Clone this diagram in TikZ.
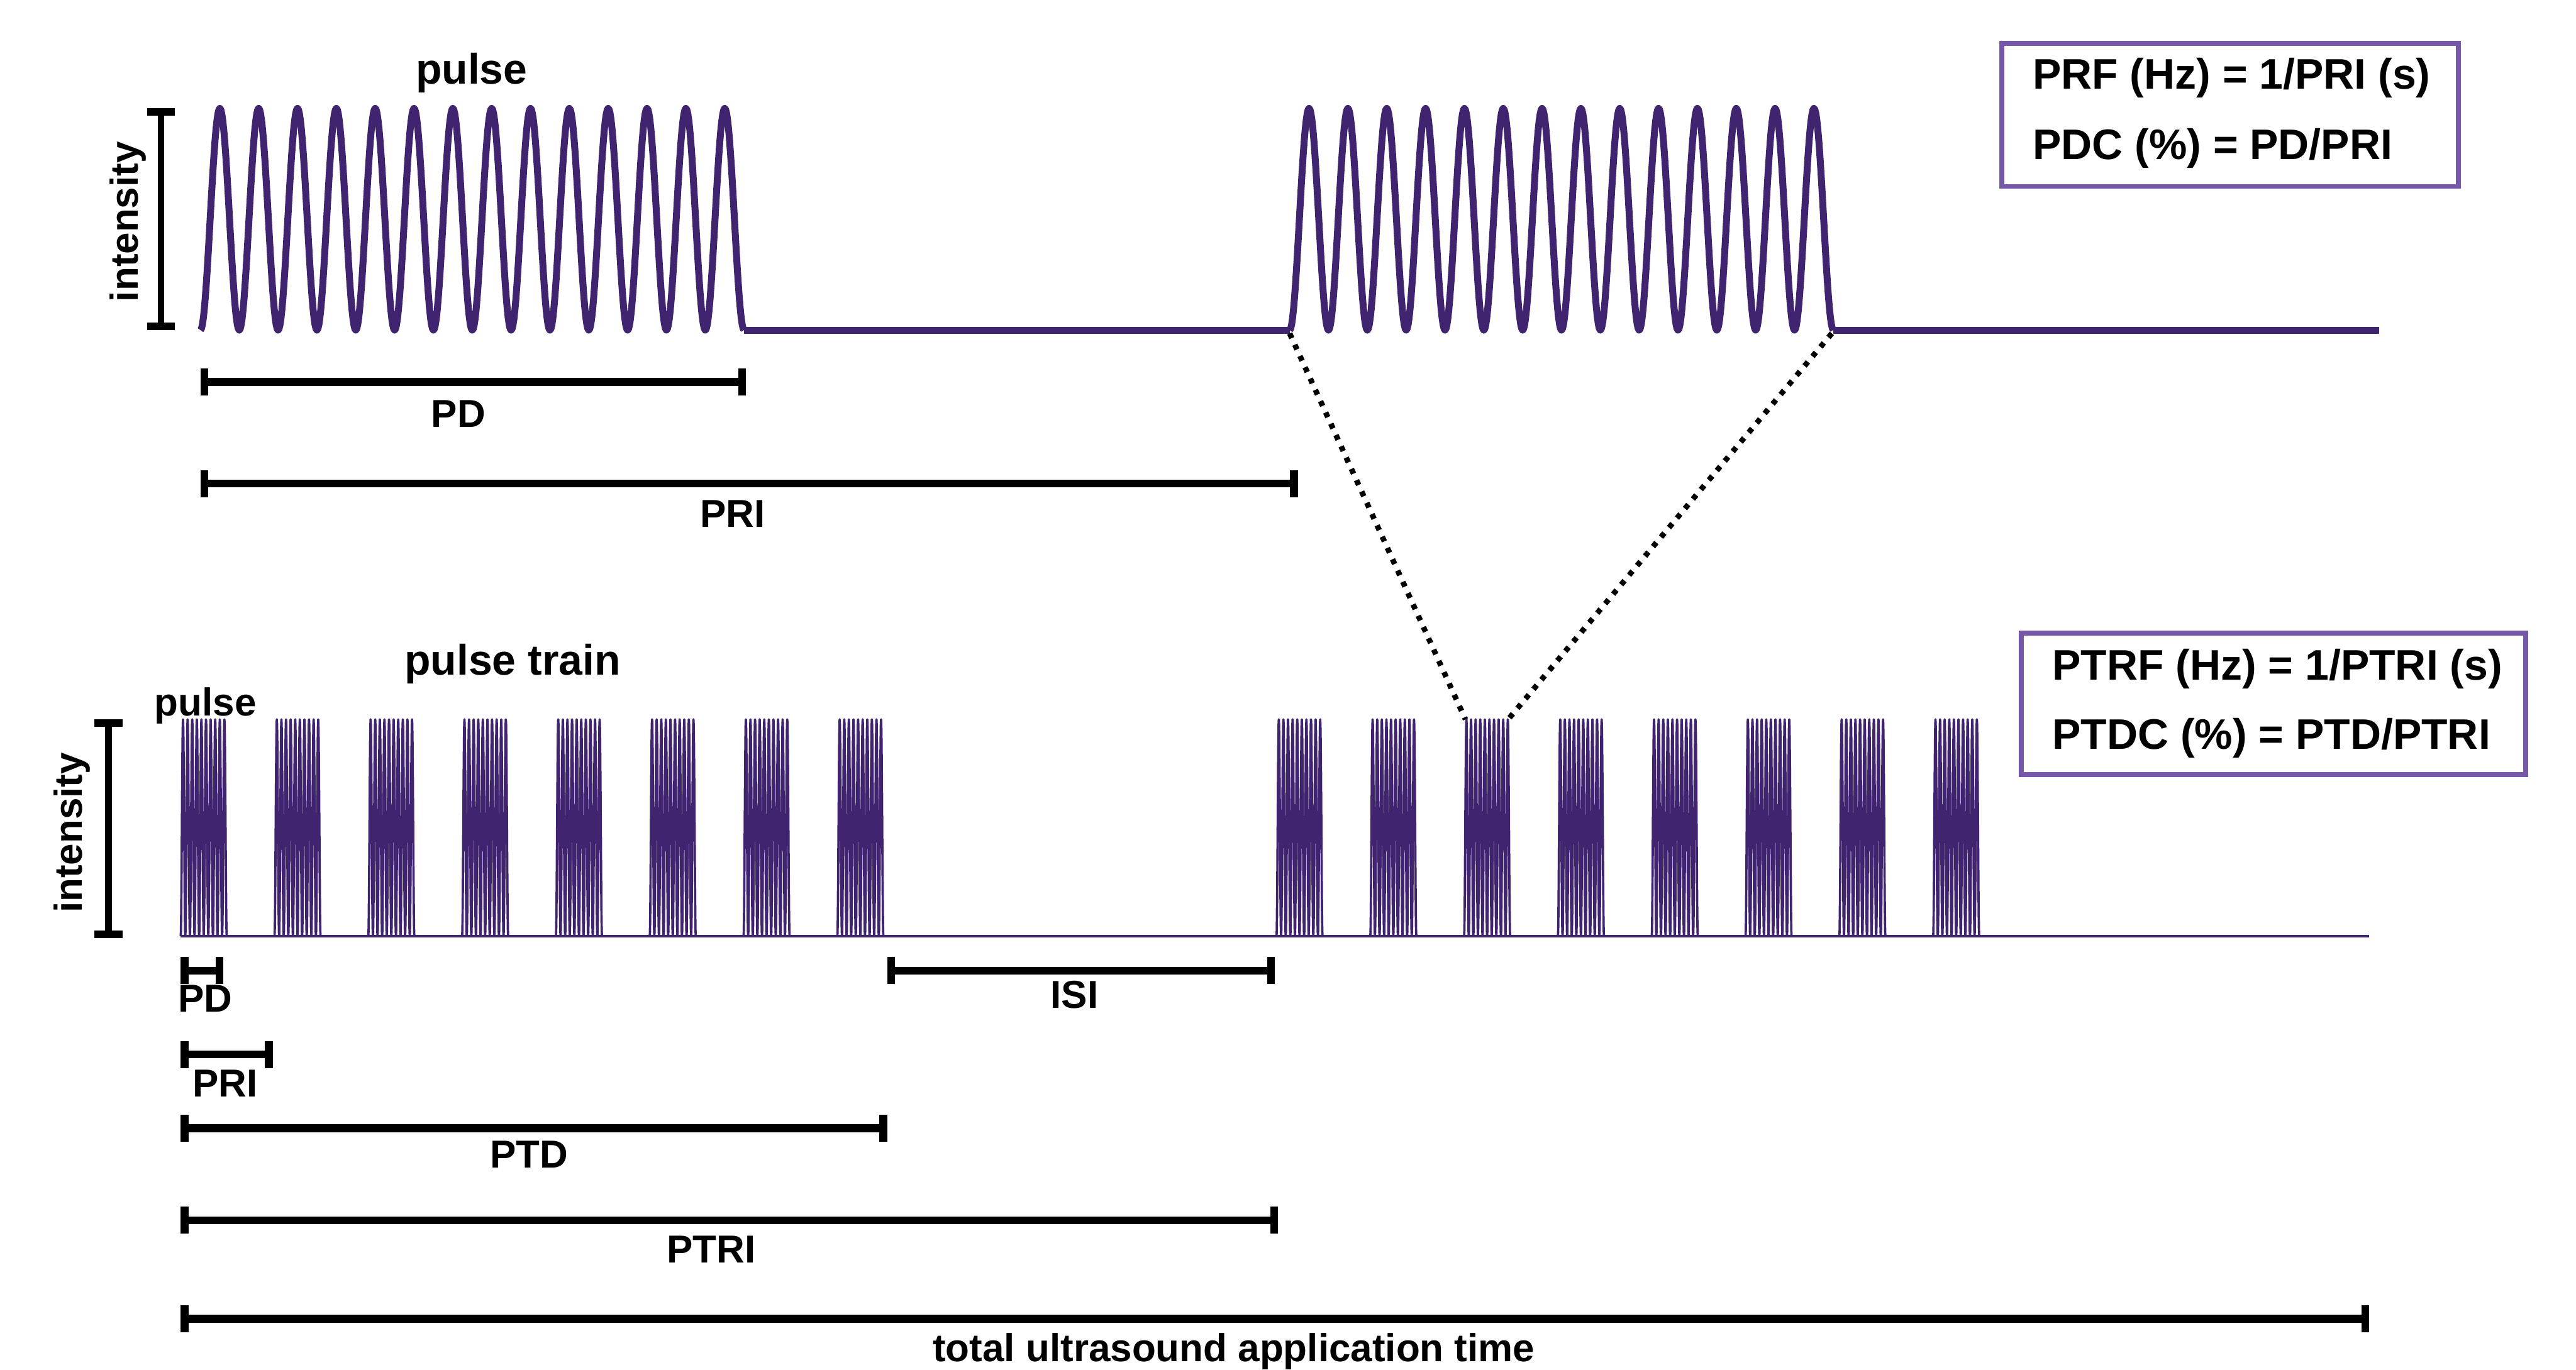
\documentclass[tikz,border=0pt]{standalone}
\usepackage{fontspec}
\setmainfont{Liberation Sans}
\usetikzlibrary{arrows.meta}
\definecolor{wavecol}{HTML}{402470}
\definecolor{boxcol}{HTML}{7558A8}
\begin{document}
\begin{tikzpicture}[x=0.02cm,y=-0.02cm,
  wave/.style={draw=wavecol, line width=2.4pt, line join=round},
  thinwave/.style={draw=wavecol, line width=0.8pt, line join=round},
  dimbar/.style={line width=2.7pt, arrows={Bar[width=0.33cm]-Bar[width=0.33cm]}},
  ibar/.style={line width=2.3pt, arrows={Bar[width=0.34cm,line width=2.6pt]-Bar[width=0.34cm,line width=2.6pt]}},
  lbl/.style={font=\fontsize{13.5}{16}\selectfont\bfseries, inner sep=0pt, anchor=base},
  biglbl/.style={font=\fontsize{14.8}{17}\selectfont\bfseries, inner sep=0pt, anchor=base},
  boxtxt/.style={font=\fontsize{14.8}{17}\selectfont\bfseries, inner sep=0pt, anchor=base west},
  infobox/.style={draw=boxcol, line width=1.7pt, inner sep=0pt, anchor=north west},
  dotline/.style={line width=1.9pt, dash pattern=on 1.8pt off 2.5pt}]
\useasboundingbox (0,0) rectangle (1568,834);

% ---------- top: single pulse ----------
\draw[wave] plot[domain=0:14, samples=561] ({122+23.64*\x}, {201-135*(1-cos(360*\x))/2});
\draw[wave] (453,201) -- (785,201);
\draw[wave] plot[domain=0:14, samples=561] ({785+23.64*\x}, {201-135*(1-cos(360*\x))/2});
\draw[wave] (1116,201) -- (1448,201);

\coordinate (iTopA) at (98,66);
\coordinate (iTopB) at (98,201);
\draw[ibar] (iTopA) -- (iTopB);
\node[lbl, rotate=90, anchor=center] (intTop) at (78,135) {intensity};
\node[biglbl] (pulseTop) at (287,51) {pulse};

\coordinate (pdA) at (122,232.5);
\coordinate (pdB) at (454,232.5);
\draw[dimbar] (pdA) -- (pdB);
\node[lbl] (pdTop) at (279,260) {PD};

\coordinate (priA) at (122,294.5);
\coordinate (priB) at (790,294.5);
\draw[dimbar] (priA) -- (priB);
\node[lbl] (priTop) at (446,321) {PRI};

\node[infobox, minimum width=5.56cm, minimum height=1.74cm] (box1) at (1217,25) {};
\node[boxtxt] (prf) at (1237,54) {PRF (Hz) = 1/PRI (s)};
\node[boxtxt] (pdc) at (1237,97) {PDC (\%) = PD/PRI};

% ---------- zoom lines ----------
\coordinate (zTopL) at (785,203);
\coordinate (zTopR) at (1115,203);
\coordinate (zBotL) at (892,438);
\coordinate (zBotR) at (918,438);
\draw[dotline] (zTopL) -- (zBotL);
\draw[dotline] (zTopR) -- (zBotR);

% ---------- bottom: pulse train ----------
\draw[thinwave] (110,570) -- (1442,570);
\foreach \s in {110,167.1,224.2,281.3,338.4,395.5,452.6,509.7,777,834.1,891.2,948.3,1005.4,1062.5,1119.6,1176.7}{
  \draw[thinwave] plot[domain=0:10, samples=201] ({\s+2.8*\x}, {570-132*(1-cos(360*\x))/2});
}

\coordinate (iBotA) at (66,438);
\coordinate (iBotB) at (66,571);
\draw[ibar] (iBotA) -- (iBotB);
\node[lbl, rotate=90, anchor=center] (intBot) at (44,507) {intensity};
\node[biglbl] (trainLbl) at (312,411) {pulse train};
\node[lbl] (pulseBot) at (125,436) {pulse};

\node[infobox, minimum width=6.14cm, minimum height=1.72cm] (box2) at (1229,384) {};
\node[boxtxt] (ptrf) at (1249,414) {PTRF (Hz) = 1/PTRI (s)};
\node[boxtxt] (ptdc) at (1249,456) {PTDC (\%) = PTD/PTRI};

\coordinate (bpdA) at (110,591);
\coordinate (bpdB) at (136,591);
\draw[dimbar] (bpdA) -- (bpdB);
\node[lbl] (pdBot) at (125,616) {PD};

\coordinate (isiA) at (540,591);
\coordinate (isiB) at (776,591);
\draw[dimbar] (isiA) -- (isiB);
\node[lbl] (isi) at (654,614) {ISI};

\coordinate (bpriA) at (110,642);
\coordinate (bpriB) at (166,642);
\draw[dimbar] (bpriA) -- (bpriB);
\node[lbl] (priBot) at (137,668) {PRI};

\coordinate (ptdA) at (110,687);
\coordinate (ptdB) at (540,687);
\draw[dimbar] (ptdA) -- (ptdB);
\node[lbl] (ptd) at (322,711) {PTD};

\coordinate (ptriA) at (110,743);
\coordinate (ptriB) at (778,743);
\draw[dimbar] (ptriA) -- (ptriB);
\node[lbl] (ptri) at (433,769) {PTRI};

\coordinate (totA) at (110,803);
\coordinate (totB) at (1442,803);
\draw[dimbar] (totA) -- (totB);
\node[lbl] (total) at (751,829) {total ultrasound application time};
\end{tikzpicture}
\end{document}
